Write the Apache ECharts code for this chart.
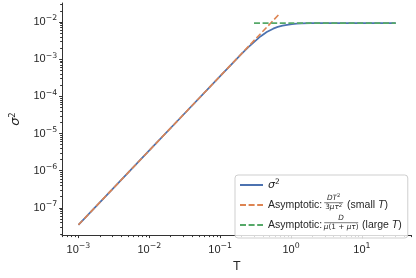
<!DOCTYPE html>
<html><head><meta charset="utf-8">
<script src="https://cdn.jsdelivr.net/npm/echarts@6/dist/echarts.min.js"></script>
<style>html,body{margin:0;padding:0;background:#fff}#c{width:416px;height:278px}</style>
</head><body><div id="c"></div>
<script>
// ---- data ----
const T_sigma = [0.001, 0.003, 0.01, 0.03, 0.1, 0.15, 0.2, 0.25, 0.3, 0.37, 0.454, 0.56, 0.65, 0.76, 0.88, 1.03, 1.2, 1.4, 1.9, 3, 5, 10, 30];
const sigma2  = [3.5e-8, 3.15e-7, 3.5e-6, 3.15e-5, 3.5e-4, 7.85e-4, 1.38e-3, 2.1e-3, 2.88e-3, 4.07e-3, 5.37e-3, 6.61e-3, 7.36e-3, 7.94e-3, 8.38e-3, 8.73e-3, 8.97e-3, 9.14e-3, 9.25e-3, 9.3e-3, 9.3e-3, 9.3e-3, 9.3e-3];
const T_small = [0.001, 0.01, 0.1, 0.7];
const sig_small = [3.5e-8, 3.5e-6, 3.5e-4, 1.715e-2];
const T_large = [0.3, 30];
const sig_large = [9.3e-3, 9.3e-3];
const xMajor = [1e-3, 1e-2, 1e-1, 1, 10];
const yMajor = [1e-7, 1e-6, 1e-5, 1e-4, 1e-3, 1e-2];
const seriesNames = ['σ²', 'Asymptotic: DT²/(3μτ²) (small T)', 'Asymptotic: D/(μ(1+μτ)) (large T)'];

// ---- layout / style ----
const XMIN = Math.pow(10, -3.23), XMAX = Math.pow(10, 1.701);
const YMIN = Math.pow(10, -7.733), YMAX = Math.pow(10, -1.49);
const FONT = '"Liberation Sans", Arial, sans-serif';
const MATH = '"DejaVu Sans", sans-serif';
const INK = '#262626';
const COLORS = ['#4C72B0', '#DD8452', '#55A868'];

function minorTicks(lo, hi) {
  const out = [];
  for (let k = Math.floor(Math.log10(lo)); k <= Math.ceil(Math.log10(hi)); k++) {
    for (let m = 2; m <= 9; m++) { const v = m * Math.pow(10, k); if (v >= lo && v <= hi) out.push(v); }
  }
  return out;
}
const xMinor = minorTicks(XMIN, XMAX), yMinor = minorTicks(YMIN, YMAX);

function pow10Label(v) {
  const e = Math.round(Math.log10(v));
  return '{b|10}{s|' + (e < 0 ? '\u2212' + (-e) : '' + e) + '}';
}
const labelRich = {
  b: { fontSize: 11, fontFamily: FONT, color: INK, lineHeight: 15 },
  s: { fontSize: 7.8, fontFamily: MATH, color: INK, lineHeight: 6, verticalAlign: 'top' }
};
const axisLineStyle = { color: '#333', width: 1 };

function pairs(xs, ys) { return xs.map((x, i) => [x, ys[i]]); }

// legend geometry
const LEG_LEFT = 235, LEG_TOP = 175, PAD = [3, 6, 6, 4], ICON_W = 23, ROW_H = 14, ROW_GAP = 6;
const LEG_FS = 10.5;
const FRAC1_W = 19, FRAC2_W = 34;
const cv = document.createElement('canvas').getContext('2d');
cv.font = LEG_FS + 'px ' + FONT;
const asympW = cv.measureText('Asymptotic: ').width;
const textX = LEG_LEFT + PAD[3] + ICON_W + 5;
const rowC = i => LEG_TOP + PAD[0] + ROW_H / 2 + i * (ROW_H + ROW_GAP);

const fracRich = {
  m: { fontSize: 7.3, fontStyle: 'italic', fontFamily: MATH, fill: INK, lineHeight: 9 },
  r: { fontSize: 7.3, fontFamily: MATH, fill: INK, lineHeight: 9 },
  s: { fontSize: 5.2, fontFamily: MATH, fill: INK, lineHeight: 5, verticalAlign: 'top' }
};
function fraction(cx, rc, w, num, den) {
  const by = rc - 2.3;
  return [
    { type: 'text', z: 20, style: { x: cx, y: by - 4.6, text: num, align: 'center', verticalAlign: 'middle', rich: fracRich } },
    { type: 'line', z: 20, shape: { x1: cx - w / 2, y1: by, x2: cx + w / 2, y2: by }, style: { stroke: INK, lineWidth: 0.6 } },
    { type: 'text', z: 20, style: { x: cx, y: by + 4.6, text: den, align: 'center', verticalAlign: 'middle', rich: fracRich } }
  ];
}
const f1x = textX + asympW + FRAC1_W / 2, f2x = textX + asympW + FRAC2_W / 2;
const graphics = [].concat(
  fraction(f1x, rowC(1), FRAC1_W, '{m|DT}{s|2}', '{r|3}{m|μτ}{s|2}'),
  fraction(f2x, rowC(2), FRAC2_W, '{m|D}', '{m|μ}{r|(1 + }{m|μτ}{r|)}')
);

const chart = echarts.init(document.getElementById('c'), null, { renderer: 'canvas' });
chart.setOption({
  animation: false,
  backgroundColor: '#fff',
  grid: { left: 41.7, right: 4.4, top: 3, bottom: 34 },
  xAxis: [
    { type: 'log', logBase: 10, min: XMIN, max: XMAX, position: 'bottom',
      axisLine: { show: true, lineStyle: axisLineStyle },
      axisTick: { show: true, customValues: xMajor, length: 3, lineStyle: axisLineStyle },
      axisLabel: { customValues: xMajor, formatter: pow10Label, rich: labelRich, margin: 7 },
      splitLine: { show: false }, minorTick: { show: false },
      name: 'T', nameLocation: 'middle', nameGap: 20,
      nameTextStyle: { fontSize: 12.5, fontFamily: FONT, color: INK } },
    { type: 'log', logBase: 10, min: XMIN, max: XMAX, position: 'bottom',
      axisLine: { show: false },
      axisTick: { show: true, customValues: xMinor, length: 2, lineStyle: axisLineStyle },
      axisLabel: { show: false }, splitLine: { show: false } }
  ],
  yAxis: [
    { type: 'log', logBase: 10, min: YMIN, max: YMAX, position: 'left',
      axisLine: { show: true, lineStyle: axisLineStyle },
      axisTick: { show: true, customValues: yMajor, length: 3, lineStyle: axisLineStyle },
      axisLabel: { customValues: yMajor, formatter: pow10Label, rich: labelRich, margin: 5 },
      splitLine: { show: false },
      name: '{i|σ}{s|2}', nameLocation: 'middle', nameGap: 28.5, nameRotate: 90,
      nameTextStyle: { rich: {
        i: { fontSize: 13, fontStyle: 'italic', fontFamily: MATH, color: INK, lineHeight: 16 },
        s: { fontSize: 8.5, fontFamily: MATH, color: INK, lineHeight: 8, verticalAlign: 'top' } } } },
    { type: 'log', logBase: 10, min: YMIN, max: YMAX, position: 'left',
      axisLine: { show: false },
      axisTick: { show: true, customValues: yMinor, length: 2, lineStyle: axisLineStyle },
      axisLabel: { show: false }, splitLine: { show: false } }
  ],
  legend: {
    orient: 'vertical', left: LEG_LEFT, top: LEG_TOP, padding: PAD,
    itemWidth: ICON_W, itemHeight: ROW_H, itemGap: ROW_GAP,
    itemStyle: { opacity: 0 },
    lineStyle: { opacity: 1 },
    backgroundColor: 'rgba(255,255,255,0.8)', borderColor: '#cfcfcf', borderWidth: 1, borderRadius: 3,
    data: seriesNames,
    formatter: function (name) {
      if (name === seriesNames[0]) return '{i|σ}{s|2}';
      if (name === seriesNames[1]) return 'Asymptotic: {f1|\u00a0} (small {it|T})';
      return 'Asymptotic: {f2|\u00a0} (large {it|T})';
    },
    textStyle: { fontSize: LEG_FS, fontFamily: FONT, color: INK, lineHeight: ROW_H,
      rich: {
        i: { fontSize: 11, fontStyle: 'italic', fontFamily: MATH, color: INK, lineHeight: ROW_H },
        it: { fontSize: LEG_FS, fontStyle: 'italic', fontFamily: FONT, color: INK, lineHeight: ROW_H },
        s: { fontSize: 7.5, fontFamily: MATH, color: INK, lineHeight: 8, verticalAlign: 'top' },
        f1: { width: FRAC1_W, lineHeight: ROW_H, fontSize: LEG_FS },
        f2: { width: FRAC2_W, lineHeight: ROW_H, fontSize: LEG_FS }
      } }
  },
  graphic: graphics,
  series: [
    { name: seriesNames[0], type: 'line', data: pairs(T_sigma, sigma2), showSymbol: false, symbol: 'none',
      lineStyle: { color: COLORS[0], width: 1.7 }, itemStyle: { color: COLORS[0] } },
    { name: seriesNames[1], type: 'line', data: pairs(T_small, sig_small), showSymbol: false, symbol: 'none',
      lineStyle: { color: COLORS[1], width: 1.6, type: [6, 2.6] }, itemStyle: { color: COLORS[1] } },
    { name: seriesNames[2], type: 'line', data: pairs(T_large, sig_large), showSymbol: false, symbol: 'none',
      lineStyle: { color: COLORS[2], width: 1.6, type: [6, 2.6] }, itemStyle: { color: COLORS[2] } }
  ]
});
</script></body></html>
